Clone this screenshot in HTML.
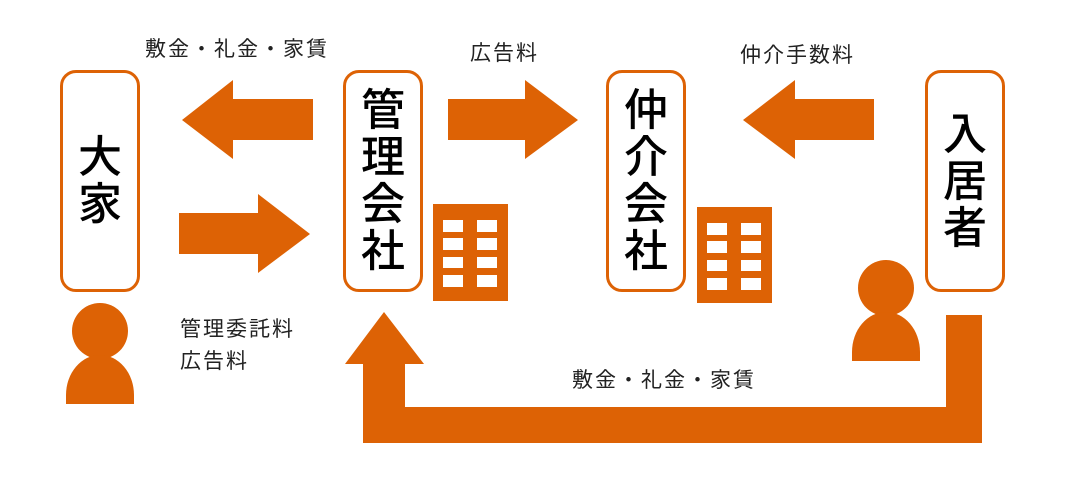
<!DOCTYPE html>
<html><head><meta charset="utf-8"><style>
body{margin:0;width:1066px;height:481px;background:#fff;position:relative;overflow:hidden;font-family:"Liberation Sans","Noto Sans CJK JP",sans-serif}
.box{position:absolute;top:70px;width:74px;height:216px;border:3px solid #dd6205;border-radius:16px;display:flex;flex-direction:column;align-items:center;justify-content:center;font-size:44px;font-weight:500;line-height:47px;color:#000}
.t{position:absolute;font-size:21px;letter-spacing:2px;color:#222;white-space:nowrap}
</style></head><body>
<svg width="1066" height="481" style="position:absolute;left:0;top:0">
<g fill="#dd6205">
<polygon points="182,120 233,80 233,99 313,99 313,140 233,140 233,159"/>
<polygon points="179,213 258,213 258,194 310,234 258,273 258,254 179,254"/>
<polygon points="448,99 525,99 525,80 578,120 525,159 525,140 448,140"/>
<polygon points="743,120 795,80 795,99 874,99 874,140 795,140 795,159"/>
<polygon points="384,312 424,364 405,364 405,407 946,407 946,315 982,315 982,443 363,443 363,364 345,364"/>
<rect x="433" y="204" width="75" height="97"/>
<rect x="697" y="207" width="75" height="96"/>
<circle cx="100" cy="331" r="28"/>
<path d="M66,404 L66,395 A34,40 0 0 1 134,395 L134,404 Z"/>
<circle cx="886" cy="288" r="28"/>
<path d="M852,361 L852,352 A34,40 0 0 1 920,352 L920,361 Z"/>
</g>
<g fill="#fff">
<rect x="443" y="220" width="20" height="12"/><rect x="477" y="220" width="20" height="12"/>
<rect x="443" y="238" width="20" height="12"/><rect x="477" y="238" width="20" height="12"/>
<rect x="443" y="257" width="20" height="11"/><rect x="477" y="257" width="20" height="11"/>
<rect x="443" y="275" width="20" height="12"/><rect x="477" y="275" width="20" height="12"/>
<rect x="707" y="223" width="20" height="12"/><rect x="741" y="223" width="20" height="12"/>
<rect x="707" y="241" width="20" height="12"/><rect x="741" y="241" width="20" height="12"/>
<rect x="707" y="260" width="20" height="11"/><rect x="741" y="260" width="20" height="11"/>
<rect x="707" y="278" width="20" height="12"/><rect x="741" y="278" width="20" height="12"/>
</g>
</svg>
<div class="box" style="left:60px"><div>大</div><div>家</div></div>
<div class="box" style="left:343px"><div>管</div><div>理</div><div>会</div><div>社</div></div>
<div class="box" style="left:606px"><div>仲</div><div>介</div><div>会</div><div>社</div></div>
<div class="box" style="left:925px"><div>入</div><div>居</div><div>者</div></div>
<div class="t" style="left:145px;top:33px">敷金・礼金・家賃</div>
<div class="t" style="left:470px;top:37px">広告料</div>
<div class="t" style="left:740px;top:39px">仲介手数料</div>
<div class="t" style="left:180px;top:314px;line-height:32px">管理委託料<br>広告料</div>
<div class="t" style="left:572px;top:364px">敷金・礼金・家賃</div>
</body></html>
